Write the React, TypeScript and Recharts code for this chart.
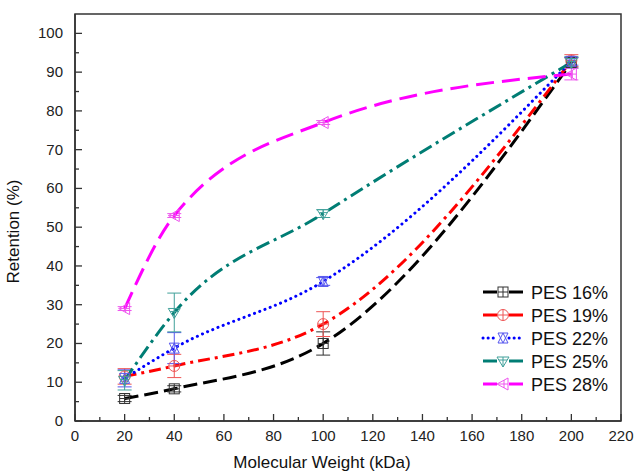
import React from 'react';
import { LineChart, Line, XAxis, YAxis, ErrorBar, ReferenceArea } from 'recharts';

const mw = [20, 40, 100, 200];
const seriesNames = ['PES 16%', 'PES 19%', 'PES 22%', 'PES 25%', 'PES 28%'];
const pes16 = [5.8, 8.3, 20, 92.5];
const err16 = [0.8, 0.8, 3, 1.2];
const pes19 = [11.5, 14.2, 25, 93];
const err19 = [2, 3, 3.2, 1.5];
const pes22 = [11, 18.8, 36, 92.8];
const err22 = [2.2, 4, 1, 1];
const pes25 = [10.5, 28, 53.5, 92.5];
const err25 = [2.5, 5, 1, 1.5];
const pes28 = [29, 53, 77, 89.5];
const err28 = [0.5, 0.5, 0.5, 1.5];
const xTicks = [0, 10, 20, 30, 40, 50, 60, 70, 80, 90, 100, 110, 120, 130, 140, 150, 160, 170, 180, 190, 200, 210, 220];
const yTicks = [0, 5, 10, 15, 20, 25, 30, 35, 40, 45, 50, 55, 60, 65, 70, 75, 80, 85, 90, 95, 100];

const values = [pes16, pes19, pes22, pes25, pes28];
const errors = [err16, err19, err22, err25, err28];
const keys = ['s16', 's19', 's22', 's25', 's28'];

const data = mw.map((x, i) => {
  const row: any = { x };
  keys.forEach((k, j) => {
    row[k] = values[j][i];
    row['e' + k] = errors[j][i];
  });
  return row;
});

const styles = [
  { color: '#000000', marker: '#333333', dash: '14 6', shape: 'square' },
  { color: '#ff0000', marker: '#ee5555', dash: '12 5 3 5', shape: 'circle' },
  { color: '#0000ff', marker: '#5555ee', dash: '0.1 5.5', shape: 'hourglass', round: true },
  { color: '#007d74', marker: '#40a09a', dash: '14 5 3 5', shape: 'down' },
  { color: '#ff00ff', marker: '#ee55ee', dash: '18 8', shape: 'left' },
];

function Marker({ cx, cy, shape, color }: any) {
  const s = 5;
  const common = { fill: 'none', stroke: color, strokeWidth: 1 };
  if (shape === 'square') {
    return (
      <g>
        <rect x={cx - s} y={cy - s} width={2 * s} height={2 * s} {...common} />
        <line x1={cx - s} y1={cy} x2={cx + s} y2={cy} {...common} />
        <line x1={cx} y1={cy - s} x2={cx} y2={cy + s} {...common} />
      </g>
    );
  }
  if (shape === 'circle') {
    return (
      <g>
        <circle cx={cx} cy={cy} r={s + 0.5} {...common} />
        <line x1={cx - s - 0.5} y1={cy} x2={cx + s + 0.5} y2={cy} {...common} />
        <line x1={cx} y1={cy - s - 0.5} x2={cx} y2={cy + s + 0.5} {...common} />
      </g>
    );
  }
  if (shape === 'hourglass') {
    return (
      <g>
        <polygon points={`${cx - s},${cy - s} ${cx + s},${cy - s} ${cx},${cy + s}`} {...common} />
        <polygon points={`${cx - s},${cy + s} ${cx + s},${cy + s} ${cx},${cy - s}`} {...common} />
      </g>
    );
  }
  if (shape === 'down') {
    return (
      <g>
        <polygon points={`${cx - s - 1},${cy - s + 1} ${cx + s + 1},${cy - s + 1} ${cx},${cy + s + 1}`} {...common} />
        <line x1={cx - s + 1} y1={cy - 1} x2={cx + s - 1} y2={cy - 1} {...common} />
        <line x1={cx} y1={cy - s + 1} x2={cx} y2={cy + s + 1} {...common} />
      </g>
    );
  }
  return (
    <g>
      <polygon points={`${cx - s - 1},${cy} ${cx + s},${cy - s - 1} ${cx + s},${cy + s + 1}`} {...common} />
      <line x1={cx - s} y1={cy} x2={cx + s} y2={cy} {...common} />
      <line x1={cx + 1} y1={cy - s + 1} x2={cx + 1} y2={cy + s - 1} {...common} />
    </g>
  );
}

const AXIS = '#333333';
const FONT = 'Liberation Sans, Arial, sans-serif';

function XTick(props: any) {
  const { x, y, payload } = props;
  const v = payload.value;
  if (v % 20 === 0) {
    return (
      <g>
        <line x1={x} y1={y} x2={x} y2={y - 7} stroke={AXIS} strokeWidth={1.3} />
        <text x={x} y={y + 20} textAnchor="middle" fontSize={15} fill="#222" fontFamily={FONT}>{v}</text>
      </g>
    );
  }
  return <line x1={x} y1={y} x2={x} y2={y - 4} stroke={AXIS} strokeWidth={1.3} />;
}

function YTick(props: any) {
  const { x, y, payload } = props;
  const v = payload.value;
  if (v % 10 === 0) {
    return (
      <g>
        <line x1={x} y1={y} x2={x + 7} y2={y} stroke={AXIS} strokeWidth={1.3} />
        <text x={x - 12} y={y + 5} textAnchor="end" fontSize={15} fill="#222" fontFamily={FONT}>{v}</text>
      </g>
    );
  }
  return <line x1={x} y1={y} x2={x + 4} y2={y} stroke={AXIS} strokeWidth={1.3} />;
}

function Legend() {
  const x0 = 483;
  const y0 = 292;
  const dy = 23;
  return (
    <svg width={636} height={474} style={{ position: 'absolute', left: 0, top: 0, pointerEvents: 'none' }}>
      {seriesNames.map((name, i) => {
        const st = styles[i];
        const y = y0 + i * dy;
        return (
          <g key={name}>
            <line x1={x0} y1={y} x2={x0 + 14} y2={y} stroke={st.color} strokeWidth={3}
              strokeDasharray={st.round ? '0.1 5' : undefined} strokeLinecap={st.round ? 'round' : 'butt'} />
            <line x1={x0 + 26} y1={y} x2={x0 + 40} y2={y} stroke={st.color} strokeWidth={3}
              strokeDasharray={st.round ? '0.1 5' : undefined} strokeLinecap={st.round ? 'round' : 'butt'} />
            <Marker cx={x0 + 20} cy={y} shape={st.shape} color={st.marker} />
            <text x={x0 + 48} y={y + 6.5} fontSize={18} fill="#111" fontFamily={FONT}>{name}</text>
          </g>
        );
      })}
    </svg>
  );
}

export default function App() {
  return (
    <div style={{ position: 'absolute', left: 0, top: 0, width: 636, height: 474, background: '#fff' }}>
      <LineChart width={636} height={474} data={data} margin={{ top: 14, right: 15, left: 0, bottom: 0 }}>
        <XAxis dataKey="x" type="number" domain={[0, 220]} ticks={xTicks} interval={0}
          height={53} tickSize={0} tickMargin={0} tickLine={false} tick={<XTick />}
          axisLine={{ stroke: AXIS, strokeWidth: 1.5 }}
          label={{ value: 'Molecular Weight (kDa)', position: 'insideBottom', offset: 6, dx: -26, fontSize: 17, fill: '#111', fontFamily: FONT }} />
        <YAxis type="number" domain={[0, 105]} ticks={yTicks} interval={0} width={75}
          tickSize={0} tickMargin={0} tickLine={false} tick={<YTick />}
          axisLine={{ stroke: AXIS, strokeWidth: 1.5 }}
          label={{ value: 'Retention (%)', angle: -90, position: 'insideLeft', offset: 13, dy: 14, fontSize: 17, fill: '#111', fontFamily: FONT, textAnchor: 'middle' }} />
        <ReferenceArea x1={0} x2={220} y1={0} y2={105} fill="none" stroke={AXIS} strokeWidth={1.5} ifOverflow="visible" />
        {keys.map((k, i) => {
          const st = styles[i];
          return (
            <Line key={k} dataKey={k} type="monotone" stroke={st.color} strokeWidth={3}
              strokeDasharray={st.dash} strokeLinecap={st.round ? 'round' : 'butt'}
              isAnimationActive={false}
              dot={(p: any) => <Marker key={k + p.index} cx={p.cx} cy={p.cy} shape={st.shape} color={st.marker} />}
              activeDot={false}>
              <ErrorBar dataKey={'e' + k} width={7} stroke={st.marker} strokeWidth={1} direction="y" />
            </Line>
          );
        })}
      </LineChart>
      <Legend />
    </div>
  );
}
